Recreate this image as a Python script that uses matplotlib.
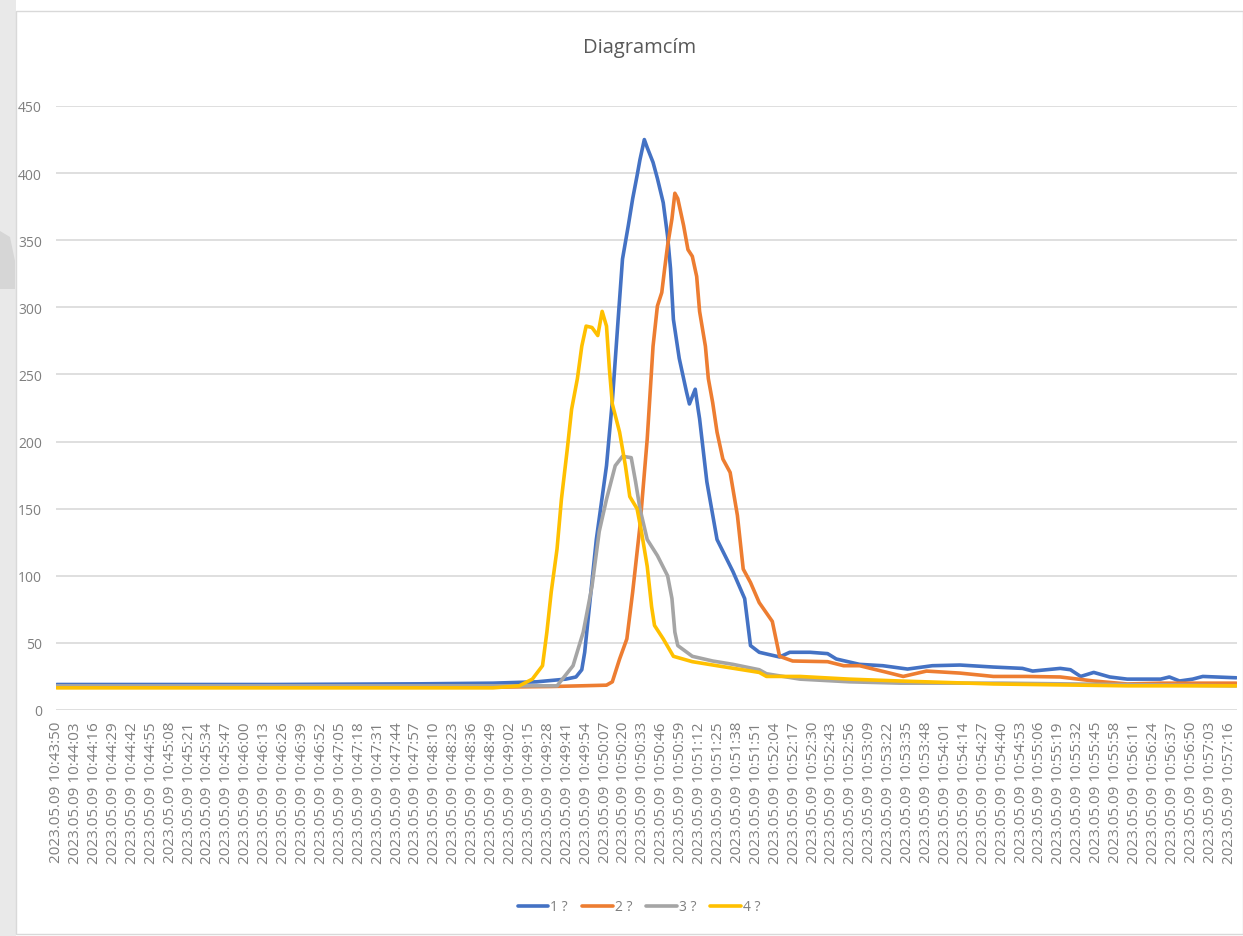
import matplotlib
matplotlib.use("Agg")
import matplotlib.pyplot as plt
from matplotlib.patches import Rectangle, Polygon

# ---------------- data ----------------
tick_times = ["10:43:50", "10:44:03", "10:44:16", "10:44:29", "10:44:42", "10:44:55",
              "10:45:08", "10:45:21", "10:45:34", "10:45:47", "10:46:00", "10:46:13",
              "10:46:26", "10:46:39", "10:46:52", "10:47:05", "10:47:18", "10:47:31",
              "10:47:44", "10:47:57", "10:48:10", "10:48:23", "10:48:36", "10:48:49",
              "10:49:02", "10:49:15", "10:49:28", "10:49:41", "10:49:54", "10:50:07",
              "10:50:20", "10:50:33", "10:50:46", "10:50:59", "10:51:12", "10:51:25",
              "10:51:38", "10:51:51", "10:52:04", "10:52:17", "10:52:30", "10:52:43",
              "10:52:56", "10:53:09", "10:53:22", "10:53:35", "10:53:48", "10:54:01",
              "10:54:14", "10:54:27", "10:54:40", "10:54:53", "10:55:06", "10:55:19",
              "10:55:32", "10:55:45", "10:55:58", "10:56:11", "10:56:24", "10:56:37",
              "10:56:50", "10:57:03", "10:57:16"]
date_prefix = "2023.05.09"
tick_labels = [f"{date_prefix} {t}" for t in tick_times]
tick_step = 13          # seconds between labelled categories
n_categories = 812      # one category per second

# series: (seconds since 10:43:50, value)
s1_t = [0, 150, 250, 300, 330, 350, 357, 361, 363, 371, 378, 382, 386, 389, 393, 396, 399,
        401, 404, 406, 410, 413, 417, 420, 422, 424, 428, 433, 435, 439, 441, 442, 447, 454,
        465, 473, 477, 483, 497, 504, 518, 530, 536, 552, 568, 585, 602, 621, 644, 664, 671,
        690, 697, 704, 713, 724, 736, 759, 765, 772, 781, 788, 811]
s1_v = [19, 19, 19.5, 20, 21, 23, 24.6, 30, 43, 127, 182, 230, 291, 336, 361, 381, 398,
        410, 425, 419, 408, 396, 378, 353, 329, 291, 262, 237, 228, 239, 224, 217, 170, 127,
        103, 83, 48, 43, 39.5, 43, 43, 42, 38, 34, 33, 30.5, 33, 33.5, 32, 31, 29,
        31, 30, 25, 28, 24.6, 23, 23, 24.6, 21.6, 23, 25, 24]

s2_t = [0, 300, 340, 360, 378, 382, 387, 392, 396, 401, 406, 410, 413, 416, 418, 420, 423,
        425, 427, 431, 434, 437, 440, 442, 446, 448, 451, 454, 458, 463, 468, 472, 477, 483,
        492, 497, 506, 530, 541, 552, 571, 582, 598, 621, 644, 667, 690, 713, 736, 759, 781, 811]
s2_v = [17, 17, 17.5, 18, 18.5, 21, 38, 53, 88, 137, 202, 271, 301, 311, 329, 346, 366,
        385, 381, 361, 343, 338, 323, 297, 271, 247, 229, 207, 187, 177, 145, 105, 95, 80,
        66, 40, 36.5, 36, 33, 33, 28, 25, 29, 27.5, 25, 25, 24.6, 21.6, 19.4, 20, 20, 20]

s3_t = [0, 330, 344, 355, 362, 368, 373, 378, 384, 389, 395, 398, 401, 406, 413, 420, 423,
        425, 427, 437, 451, 465, 483, 488, 511, 545, 580, 650, 811]
s3_v = [18, 18, 18, 33, 58, 92, 133, 157, 182, 189, 188, 170, 150, 127, 115, 100, 83,
        58, 48, 40, 36.5, 34, 30, 27, 23, 21, 20, 20, 18]

s4_t = [0, 300, 318, 327, 334, 337, 340, 344, 347, 351, 354, 358, 361, 364, 368, 372, 375,
        378, 380, 382, 387, 391, 394, 399, 402, 406, 409, 411, 417, 424, 437, 454, 483, 488,
        511, 545, 580, 644, 736, 811]
s4_v = [16.5, 16.5, 18, 23, 33, 58, 88, 120, 157, 194, 224, 247, 271, 286, 285, 279, 297,
        286, 254, 228, 207, 182, 159, 150, 133, 107, 77, 63, 53, 40, 36, 33, 28, 25,
        25, 23, 21.6, 19.4, 18, 18]

series = [("1 ?", s1_t, s1_v, "#4472C4"),
          ("2 ?", s2_t, s2_v, "#ED7D31"),
          ("3 ?", s3_t, s3_v, "#A5A5A5"),
          ("4 ?", s4_t, s4_v, "#FFC000")]

title = "Diagramcím"
y_ticks = [0, 50, 100, 150, 200, 250, 300, 350, 400, 450]

# ---------------- figure ----------------
plt.rcParams['font.family'] = ['Open Sans', 'DejaVu Sans']
W, H = 1243, 937
fig = plt.figure(figsize=(W / 100, H / 100), dpi=100)
fig.patch.set_facecolor("white")

# left grey strip and chart border
fig.patches.append(Rectangle((0, 0), 16 / W, 1, transform=fig.transFigure,
                             facecolor="#e9e9e9", edgecolor="none", zorder=0))
fig.patches.append(Polygon([(0, 1 - 232 / H), (10 / W, 1 - 238 / H), (15 / W, 1 - 262 / H),
                            (15 / W, 1 - 290 / H), (0, 1 - 290 / H)], closed=True,
                           transform=fig.transFigure, facecolor="#d6d6d6",
                           edgecolor="none", zorder=0))
fig.patches.append(Rectangle((16 / W, 2 / H), 1 - 16 / W, 1 - 14 / H, transform=fig.transFigure,
                             facecolor="none", edgecolor="#d9d9d9", lw=1, zorder=1))

ax = fig.add_axes([56 / W, 1 - 711 / H, (1237 - 56) / W, (711 - 107) / H])
ax.set_facecolor("none")

for name, t, v, c in series:
    ax.plot(t, v, color=c, lw=2.6, label=name, solid_joinstyle="round", solid_capstyle="round")

ax.set_xlim(-0.5, n_categories - 0.5)
ax.set_ylim(0, 450)
ax.set_yticks(y_ticks)
ax.set_yticklabels([str(y) for y in y_ticks])
ax.set_xticks([i * tick_step for i in range(len(tick_labels))])
ax.set_xticklabels(tick_labels, rotation=90, fontsize=11, color="#7f7f7f")
ax.tick_params(axis="y", labelsize=10, labelcolor="#7f7f7f", length=0, pad=10)
ax.tick_params(axis="x", length=0, pad=8)
ax.grid(axis="y", color="#d9d9d9", lw=1.2)
ax.set_axisbelow(True)
for s in ax.spines.values():
    s.set_visible(False)

fig.text(640 / W, 1 - 48 / H, title, ha="center", va="center", fontsize=14.5, color="#595959")

leg = fig.legend(loc="center", bbox_to_anchor=(639 / W, 1 - 908 / H), ncol=4, frameon=False,
                 fontsize=10, handlelength=2.2, columnspacing=1.0, handletextpad=0.15,
                 labelcolor="#7f7f7f")
for line in leg.get_lines():
    line.set_linewidth(2.6)

fig.savefig("out.png", dpi=100, facecolor="white")
